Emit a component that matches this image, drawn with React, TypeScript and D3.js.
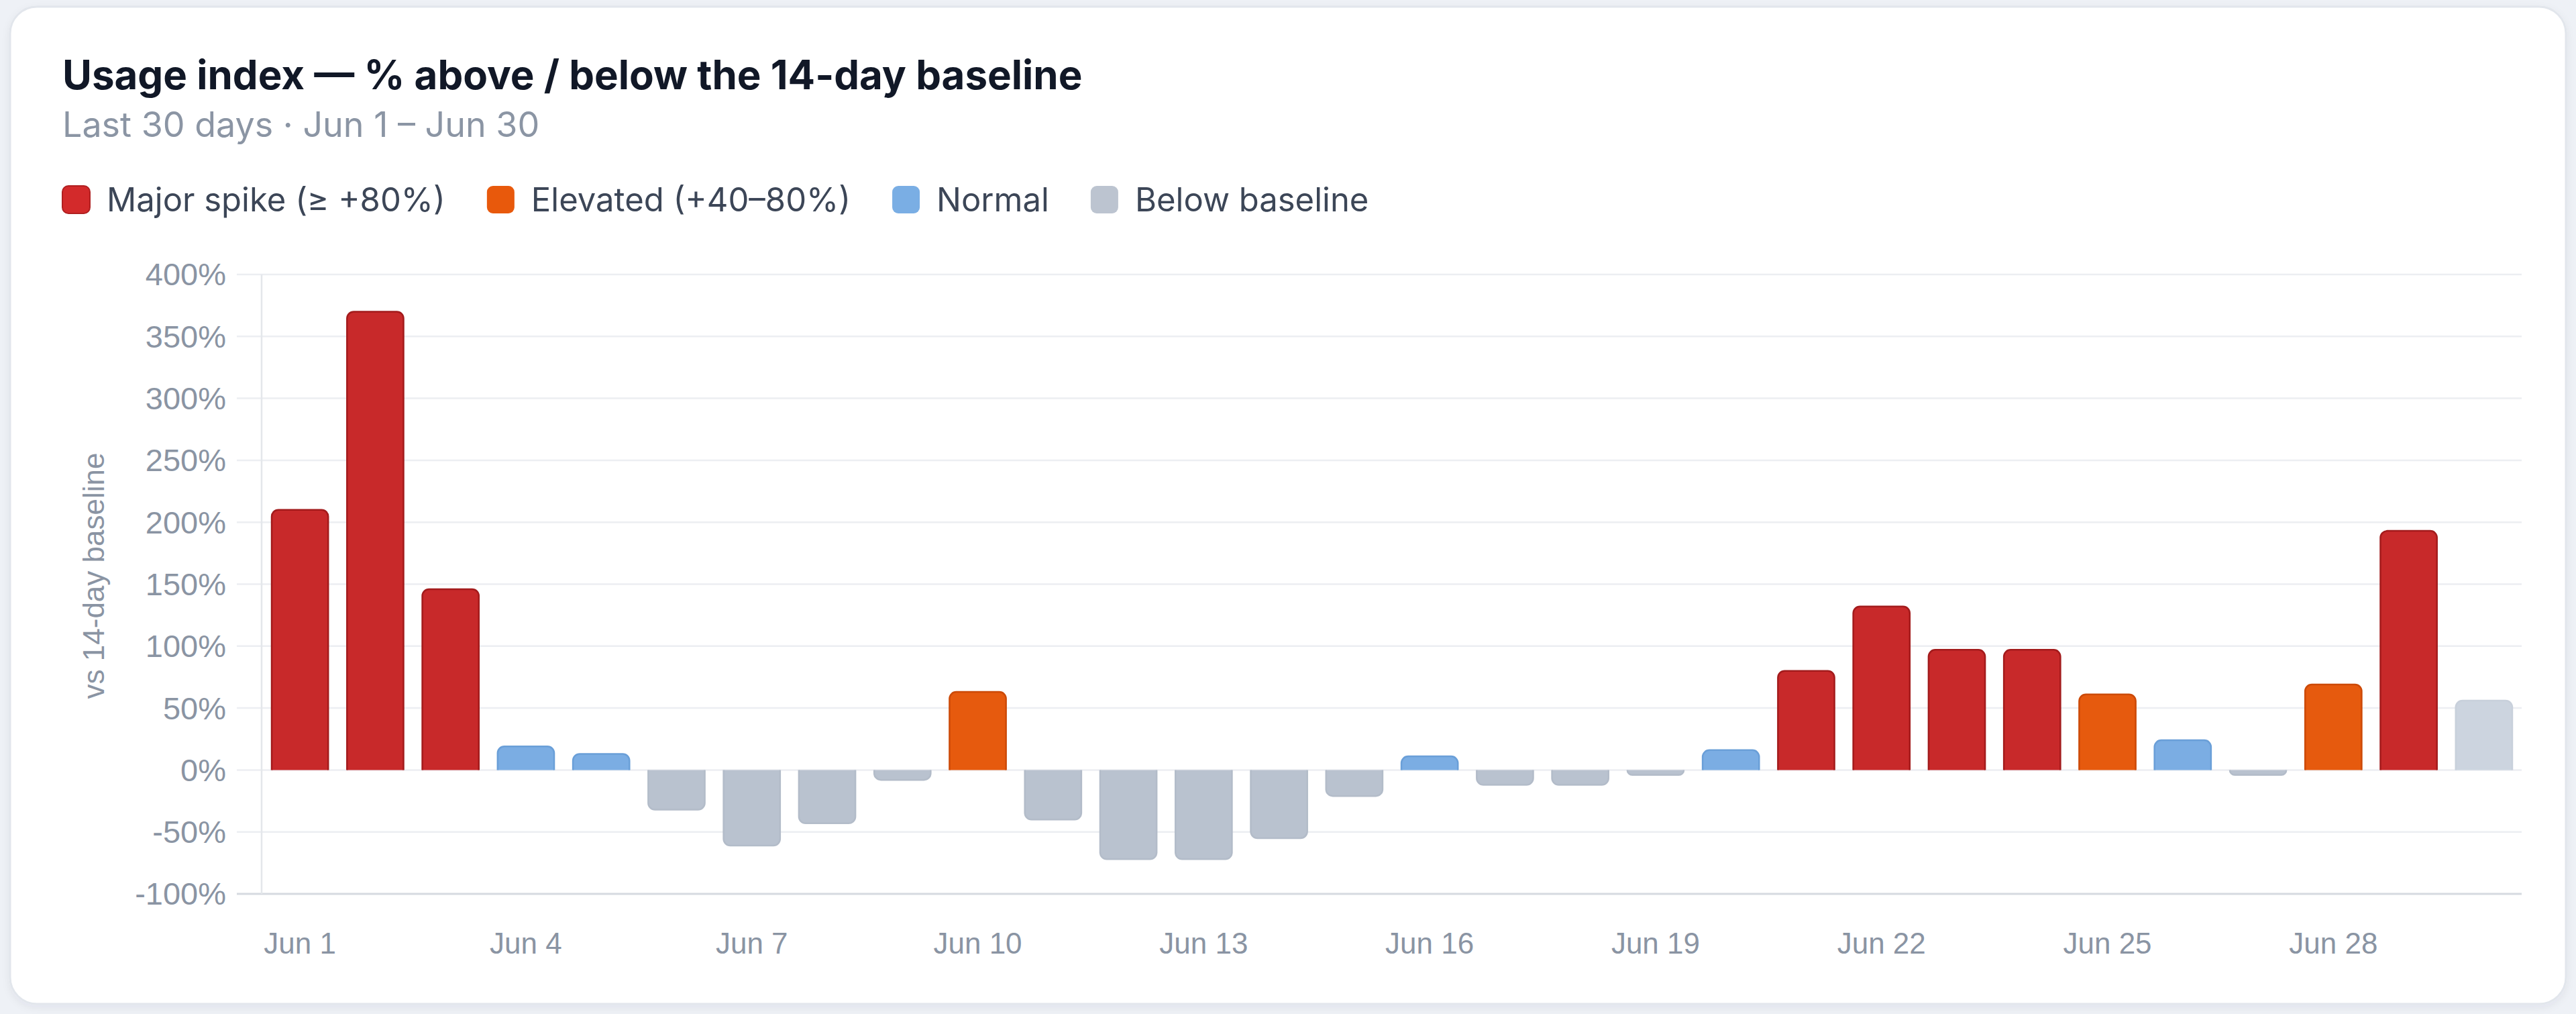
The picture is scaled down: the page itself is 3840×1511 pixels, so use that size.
import React, { useEffect, useRef } from 'react';
import * as d3 from 'd3';

const days = [
  'Jun 1', 'Jun 2', 'Jun 3', 'Jun 4', 'Jun 5', 'Jun 6', 'Jun 7', 'Jun 8', 'Jun 9', 'Jun 10',
  'Jun 11', 'Jun 12', 'Jun 13', 'Jun 14', 'Jun 15', 'Jun 16', 'Jun 17', 'Jun 18', 'Jun 19', 'Jun 20',
  'Jun 21', 'Jun 22', 'Jun 23', 'Jun 24', 'Jun 25', 'Jun 26', 'Jun 27', 'Jun 28', 'Jun 29', 'Jun 30',
];

// % vs 14-day baseline
const usageIndex = [
  210, 370, 146, 19, 13, -32, -61, -43, -8, 63,
  -40, -72, -72, -55, -21, 11, -12, -12, -4, 16,
  80, 132, 97, 97, 61, 24, -4, 69, 193, 56,
];

const status = [
  'major', 'major', 'major', 'normal', 'normal', 'below', 'below', 'below', 'below', 'elevated',
  'below', 'below', 'below', 'below', 'below', 'normal', 'below', 'below', 'below', 'normal',
  'major', 'major', 'major', 'major', 'elevated', 'normal', 'below', 'elevated', 'major', 'partial',
];

const xTickLabels = ['Jun 1', 'Jun 4', 'Jun 7', 'Jun 10', 'Jun 13', 'Jun 16', 'Jun 19', 'Jun 22', 'Jun 25', 'Jun 28'];
const yTicks = [-100, -50, 0, 50, 100, 150, 200, 250, 300, 350, 400];

const legendKeys = ['major', 'elevated', 'normal', 'below'];
const legendLabels = ['Major spike (≥ +80%)', 'Elevated (+40–80%)', 'Normal', 'Below baseline'];

const fills: Record<string, string> = {
  major: '#c8292a',
  elevated: '#e65a0e',
  normal: '#7badE3',
  below: '#b9c2cf',
  partial: '#ccd4df',
};
const borders: Record<string, string> = {
  major: '#a31b1c',
  elevated: '#cc4a08',
  normal: '#6a9fd8',
  below: '#b3bcc9',
  partial: '#c8d0db',
};
const legendFills: Record<string, string> = {
  major: '#d32a2b',
  elevated: '#e8590c',
  normal: '#7aaee4',
  below: '#bcc4d0',
};

const W = 3840;
const H = 1511;
const uiFont = 'Inter, "Noto Sans", sans-serif';
const chartFont = '"Liberation Sans", Arial, Helvetica, sans-serif';

function barPath(x0: number, w: number, yBase: number, yEnd: number, r: number) {
  const h = Math.abs(yEnd - yBase);
  const rr = Math.min(r, w / 2, h);
  const p = d3.path();
  p.moveTo(x0, yBase);
  if (rr > 0.5) {
    p.arcTo(x0, yEnd, x0 + w, yEnd, rr);
    p.arcTo(x0 + w, yEnd, x0 + w, yBase, rr);
  } else {
    p.lineTo(x0, yEnd);
    p.lineTo(x0 + w, yEnd);
  }
  p.lineTo(x0 + w, yBase);
  return p.toString();
}

const UsageIndexChart: React.FC = () => {
  const svgRef = useRef<SVGSVGElement>(null);

  useEffect(() => {
    if (!svgRef.current) return;
    const svg = d3.select(svgRef.current);
    svg.selectAll('*').remove();

    const defs = svg.append('defs');
    const shadow = defs.append('filter').attr('id', 'cardShadow')
      .attr('x', '-5%').attr('y', '-5%').attr('width', '110%').attr('height', '110%');
    shadow.append('feDropShadow')
      .attr('dx', 0).attr('dy', 4).attr('stdDeviation', 6)
      .attr('flood-color', '#1f2a44').attr('flood-opacity', 0.06);

    // page + card
    svg.append('rect').attr('width', W).attr('height', H).attr('fill', '#eef1f6');
    svg.append('rect')
      .attr('x', 15).attr('y', 10).attr('width', 3810).attr('height', 1486).attr('rx', 40)
      .attr('fill', '#ffffff').attr('stroke', '#e2e6ec').attr('stroke-width', 3)
      .attr('filter', 'url(#cardShadow)');

    // Title
    svg.append('text')
      .attr('x', 93).attr('y', 133)
      .attr('fill', '#111827')
      .style('font-family', uiFont).style('font-size', '60px').style('font-weight', 700)
      .text('Usage index — % above / below the 14-day baseline');

    svg.append('text')
      .attr('x', 93).attr('y', 204)
      .attr('fill', '#8b95a4')
      .style('font-family', uiFont).style('font-size', '52px')
      .text('Last 30 days · Jun 1 – Jun 30');

    // Legend
    const legend = svg.append('g').attr('transform', 'translate(93,297)');
    let lx = 0;
    legendKeys.forEach((k, i) => {
      const item = legend.append('g').attr('transform', `translate(${lx},0)`);
      item.append('rect')
        .attr('x', 0).attr('y', -20).attr('width', 41).attr('height', 41).attr('rx', 9)
        .attr('fill', legendFills[k])
        .attr('stroke', k === 'major' ? '#b01f20' : 'none').attr('stroke-width', 2);
      const t = item.append('text')
        .attr('x', 66).attr('y', 0).attr('dy', '0.36em')
        .attr('fill', '#3c4657')
        .style('font-family', uiFont).style('font-size', '49px')
        .text(legendLabels[i]);
      const tw = (t.node() as SVGTextElement).getComputedTextLength();
      lx += 66 + tw + 62;
    });

    // Scales
    const x = d3.scaleBand<string>().domain(days).range([391, 3759]).paddingInner(0.25).paddingOuter(0.125);
    const y = d3.scaleLinear().domain([-100, 400]).range([1332, 409]);

    const grid = svg.append('g');
    grid.selectAll('line.grid')
      .data(yTicks)
      .join('line')
      .attr('x1', 353).attr('x2', 3759)
      .attr('y1', (d) => y(d)).attr('y2', (d) => y(d))
      .attr('stroke', (d) => (d === -100 ? '#d6dae0' : '#eceef2'))
      .attr('stroke-width', (d) => (d === -100 ? 3 : 2.5));
    grid.append('line')
      .attr('x1', 390).attr('x2', 390).attr('y1', y(400)).attr('y2', y(-100))
      .attr('stroke', '#e4e7eb').attr('stroke-width', 2.5);

    // Y tick labels
    svg.append('g').selectAll('text')
      .data(yTicks)
      .join('text')
      .attr('x', 337).attr('y', (d) => y(d)).attr('dy', '0.35em')
      .attr('text-anchor', 'end')
      .attr('fill', '#8a94a3')
      .style('font-family', chartFont).style('font-size', '47px')
      .text((d) => `${d}%`);

    // Y axis title
    svg.append('text')
      .attr('transform', 'translate(140,858) rotate(-90)')
      .attr('text-anchor', 'middle').attr('dy', '0.35em')
      .attr('fill', '#8a94a3')
      .style('font-family', chartFont).style('font-size', '44px')
      .text('vs 14-day baseline');

    // X tick labels
    svg.append('g').selectAll('text')
      .data(xTickLabels)
      .join('text')
      .attr('x', (d) => (x(d) as number) + x.bandwidth() / 2)
      .attr('y', 1406).attr('dy', '0.35em')
      .attr('text-anchor', 'middle')
      .attr('fill', '#8a94a3')
      .style('font-family', chartFont).style('font-size', '44px')
      .text((d) => d);

    // Bars
    const y0 = y(0);
    svg.append('g').selectAll('path')
      .data(days)
      .join('path')
      .attr('d', (d, i) => barPath(x(d) as number, x.bandwidth(), y0, y(usageIndex[i]), 10))
      .attr('fill', (_, i) => fills[status[i]])
      .attr('stroke', (_, i) => borders[status[i]])
      .attr('stroke-width', 2.5)
      .attr('stroke-linejoin', 'round');
  }, []);

  return (
    <svg
      ref={svgRef}
      width={W}
      height={H}
      style={{ position: 'absolute', left: 0, top: 0, display: 'block' }}
    />
  );
};

export default function App() {
  return <UsageIndexChart />;
}
